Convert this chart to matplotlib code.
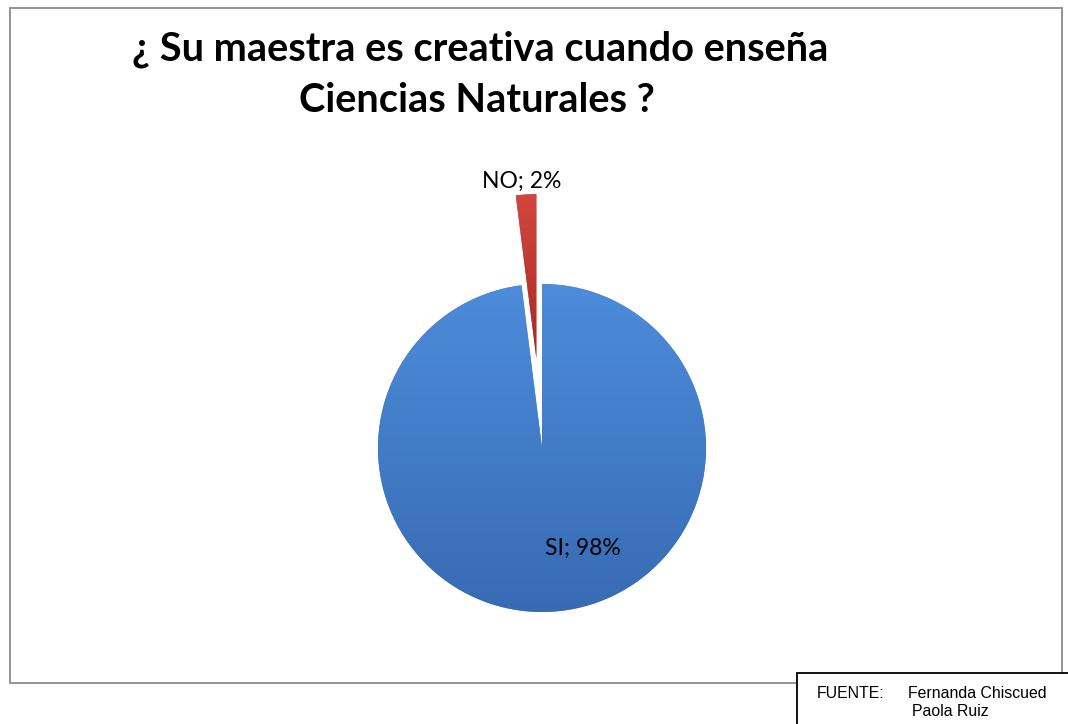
import matplotlib
matplotlib.use("Agg")
import matplotlib.pyplot as plt
import numpy as np
from matplotlib.patches import Rectangle
from matplotlib.colors import LinearSegmentedColormap

categories = ["SI", "NO"]
values = [98, 2]
title_lines = ["¿ Su maestra es creativa cuando enseña", "Ciencias Naturales ?"]
source_label = "FUENTE:"
source_names = ["Fernanda Chiscued", "Paola Ruiz"]

W, H = 1068, 724
fig = plt.figure(figsize=(W / 100, H / 100), dpi=100)
ax = fig.add_axes([0, 0, 1, 1])

def py(y):
    return H - y

# outer chart frame
ax.add_patch(Rectangle((10, py(683)), 1052, 675, fill=False, edgecolor="#8c8c8c", linewidth=1.3, zorder=1))

# pie
cx, cy, r = 542, py(448), 164
wedges, _ = ax.pie(values, startangle=90, counterclock=False, explode=[0, 90],
                   colors=["#4680c8", "#c0403a"], center=(cx, cy), radius=r, frame=True,
                   wedgeprops=dict(linewidth=0))

grads = [((0.30, 0.55, 0.86), (0.22, 0.42, 0.70)), ((0.82, 0.28, 0.25), (0.66, 0.16, 0.14))]
for w, (top, bot) in zip(wedges, grads):
    cmap = LinearSegmentedColormap.from_list("g", [bot, top])
    grad = np.linspace(0, 1, 256).reshape(-1, 1)
    bb = w.get_path().get_extents(w.get_transform() - ax.transData)
    im = ax.imshow(grad, cmap=cmap, origin="lower", aspect="auto",
                   extent=[bb.x0, bb.x1, bb.y0, bb.y1], zorder=2)
    im.set_clip_path(w)

# data labels
label_pos = [(583, py(548)), (522, py(181))]
for cat, val, (lx, ly) in zip(categories, values, label_pos):
    ax.text(lx, ly, f"{cat}; {val}%", ha="center", va="center", fontsize=16.5,
            family="Lato", color="black", zorder=5)

# title
ax.text(480, py(49), title_lines[0], ha="center", va="center", fontsize=28.6,
        family="Lato", weight="bold", color="black")
ax.text(477, py(101), title_lines[1], ha="center", va="center", fontsize=28.6,
        family="Lato", weight="bold", color="black")

# source box
ax.add_patch(Rectangle((797, py(726)), 280, 53, facecolor="white", edgecolor="black", linewidth=1.3, zorder=6))
ax.text(817, py(693), source_label, ha="left", va="center", fontsize=11.4,
        family="Liberation Sans", zorder=7)
ax.text(908, py(693), source_names[0], ha="left", va="center", fontsize=11.4,
        family="Liberation Sans", zorder=7)
ax.text(912, py(712), source_names[1], ha="left", va="center", fontsize=11.4,
        family="Liberation Sans", zorder=7)

ax.set_xlim(0, W)
ax.set_ylim(0, H)
ax.set_aspect("auto")
ax.axis("off")

fig.savefig("out.png", dpi=100, facecolor="white")
